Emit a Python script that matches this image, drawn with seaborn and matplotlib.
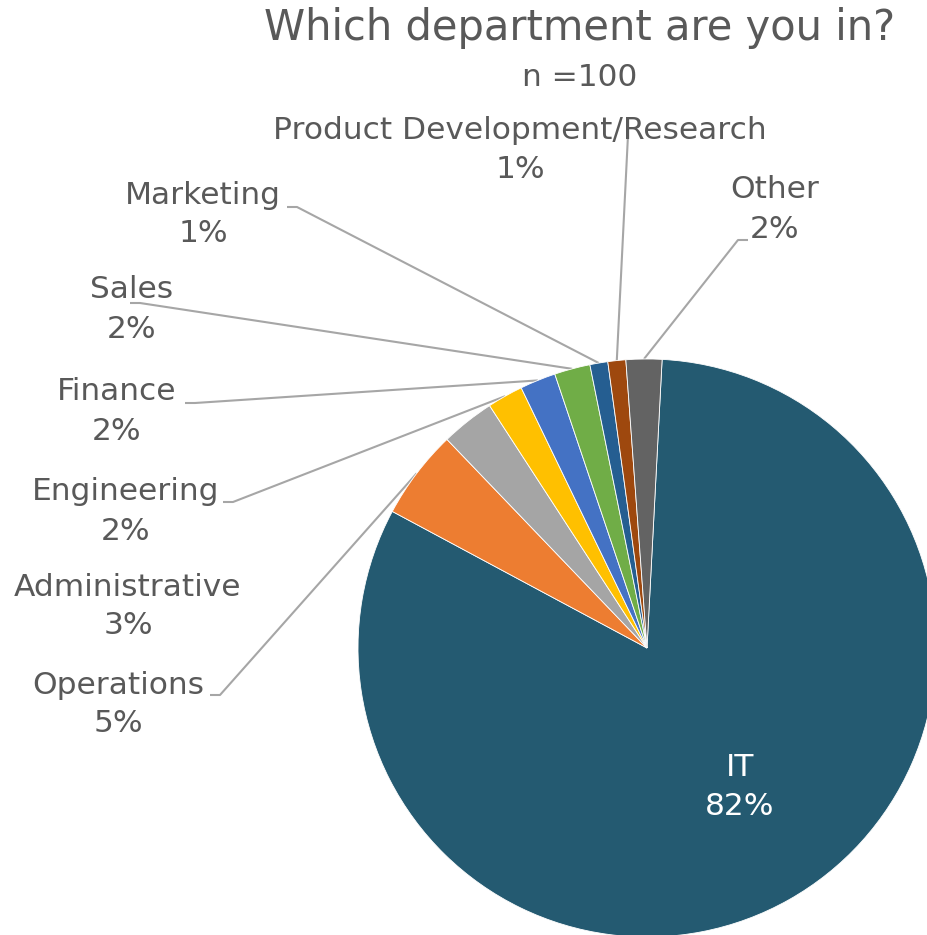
import numpy as np
import matplotlib
matplotlib.use("Agg")
import matplotlib.pyplot as plt
import seaborn as sns

# Survey responses: department of each respondent (n = 100)
departments = ["IT", "Operations", "Administrative", "Engineering", "Finance",
               "Sales", "Marketing", "Product Development/Research", "Other"]
shares = [82, 5, 3, 2, 2, 2, 1, 1, 2]
colors = ["#245A71", "#ED7D31", "#A5A5A5", "#FFC000", "#4472C4",
          "#70AD47", "#255E91", "#9E480E", "#636363"]

sns.set_style("white")
plt.rcParams["font.family"] = ["DejaVu Sans"]

W, H = 928, 935
fig = plt.figure(figsize=(W / 100, H / 100), dpi=100)
ax = fig.add_axes([0, 0, 1, 1])

cx, cy, r = 647, H - 648, 289
wedges, _ = ax.pie(shares, colors=colors, startangle=87, counterclock=False,
                   center=(cx, cy), radius=r,
                   wedgeprops=dict(edgecolor="white", linewidth=0.6))
ax.set_xlim(0, W)
ax.set_ylim(0, H)
ax.set_aspect("equal")
ax.axis("off")

text_c = "#595959"
line_c = "#A6A6A6"
fs = 22.5

def yy(py):
    return H - py

ax.text(580, yy(28), "Which department are you in?", ha="center", va="center",
        fontsize=30, color=text_c)
ax.text(580, yy(77), "n =100", ha="center", va="center", fontsize=22.5, color=text_c)

# label centre (name line), leader path start points (pixel coords, None = no leader)
label_layout = {
    "IT": ((740, 768), None),
    "Operations": ((118, 685), [(210, 695), (220, 695)]),
    "Administrative": ((128, 587), None),
    "Engineering": ((126, 492), [(223, 502), (233, 502)]),
    "Finance": ((117, 392), [(185, 403), (195, 403)]),
    "Sales": ((132, 290), [(130, 303), (140, 303)]),
    "Marketing": ((203, 195), [(287, 207), (297, 207)]),
    "Product Development/Research": ((520, 130), [(628, 135)]),
    "Other": ((775, 190), [(748, 240), (738, 240)]),
}

for name, val, w in zip(departments, shares, wedges):
    (lx, ly), path = label_layout[name]
    col = "white" if name == "IT" else text_c
    ax.text(lx, yy(ly), name, ha="center", va="center", fontsize=fs, color=col)
    ax.text(lx, yy(ly + 39), f"{val}%", ha="center", va="center", fontsize=fs, color=col)
    if path:
        mid = np.deg2rad((w.theta1 + w.theta2) / 2)
        ex, ey = cx + r * np.cos(mid), cy + r * np.sin(mid)
        xs = [p[0] for p in path] + [ex]
        ys = [yy(p[1]) for p in path] + [ey]
        ax.plot(xs, ys, color=line_c, lw=1.5, solid_capstyle="butt", zorder=0.5)

fig.savefig("out.png", dpi=100)
